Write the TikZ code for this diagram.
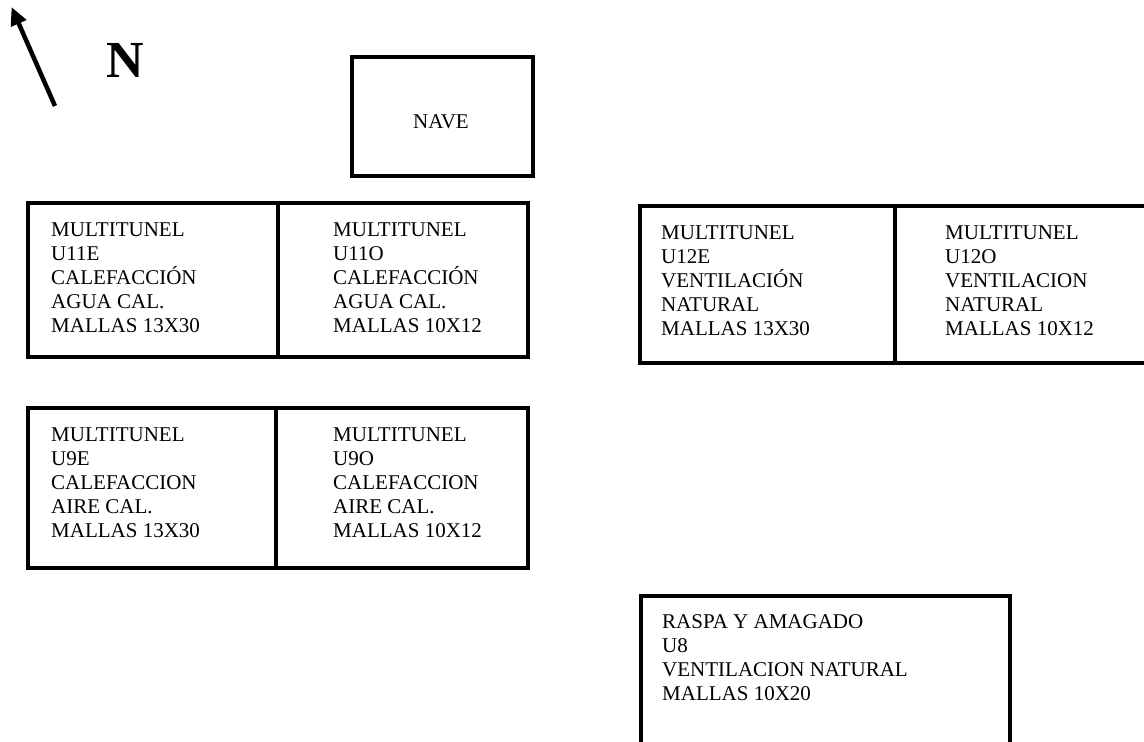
\documentclass[tikz,border=0pt]{standalone}
\usepackage{fontspec}
\setmainfont{Liberation Serif}
\usetikzlibrary{arrows.meta}
\begin{document}
\begin{tikzpicture}[x=1pt,y=-1pt,
  box/.style={draw=black,line width=4pt},
  lbl/.style={anchor=base west,inner sep=0pt,font=\fontsize{21}{24}\selectfont}]
\useasboundingbox (0,0) rectangle (1144,742);
\clip (0,0) rectangle (1144,742);
% north arrow
\coordinate (ntail) at (55,106);
\coordinate (ntip) at (11.5,7);
\draw[line width=4.5pt,-{Triangle[length=18pt,width=16pt]}] (ntail) -- (ntip);
\node[inner sep=0pt,font=\fontsize{52}{56}\selectfont\bfseries] (N) at (125.5,60.5) {N};
% NAVE
\draw[box] (352,57) rectangle (533,175.5);
\node[inner sep=0pt,font=\fontsize{21}{24}\selectfont] (nave) at (441,122) {NAVE};
% row 1 left pair
\draw[box] (27.5,202.5) rectangle (527.5,357);
\draw[box] (277.5,202.5) -- (277.5,357);
\node[lbl] (u11e) at (51,236.5) {\parbox[t]{220pt}{\fontsize{21}{24}\selectfont MULTITUNEL\\U11E\\CALEFACCIÓN\\AGUA CAL.\\MALLAS 13X30}};
\node[lbl] (u11o) at (333,236.5) {\parbox[t]{190pt}{\fontsize{21}{24}\selectfont MULTITUNEL\\U11O\\CALEFACCIÓN\\AGUA CAL.\\MALLAS 10X12}};
% row 1 right pair
\draw[box] (639.5,205.5) rectangle (1152,362.5);
\draw[box] (894.5,205.5) -- (894.5,362.5);
\node[lbl] (u12e) at (661,239) {\parbox[t]{220pt}{\fontsize{21}{24}\selectfont MULTITUNEL\\U12E\\VENTILACIÓN\\NATURAL\\MALLAS 13X30}};
\node[lbl] (u12o) at (945,239) {\parbox[t]{190pt}{\fontsize{21}{24}\selectfont MULTITUNEL\\U12O\\VENTILACION\\NATURAL\\MALLAS 10X12}};
% row 2 pair
\draw[box] (27.5,407.5) rectangle (527.5,567.5);
\draw[box] (275.5,407.5) -- (275.5,567.5);
\node[lbl] (u9e) at (51,441) {\parbox[t]{220pt}{\fontsize{21}{24}\selectfont MULTITUNEL\\U9E\\CALEFACCION\\AIRE CAL.\\MALLAS 13X30}};
\node[lbl] (u9o) at (333,441) {\parbox[t]{190pt}{\fontsize{21}{24}\selectfont MULTITUNEL\\U9O\\CALEFACCION\\AIRE CAL.\\MALLAS 10X12}};
% RASPA Y AMAGADO
\draw[box] (640.5,595.5) rectangle (1009.5,748);
\node[lbl] (u8) at (662,628.5) {\parbox[t]{340pt}{\fontsize{21}{24}\selectfont RASPA Y AMAGADO\\U8\\VENTILACION NATURAL\\MALLAS 10X20}};
\end{tikzpicture}
\end{document}
